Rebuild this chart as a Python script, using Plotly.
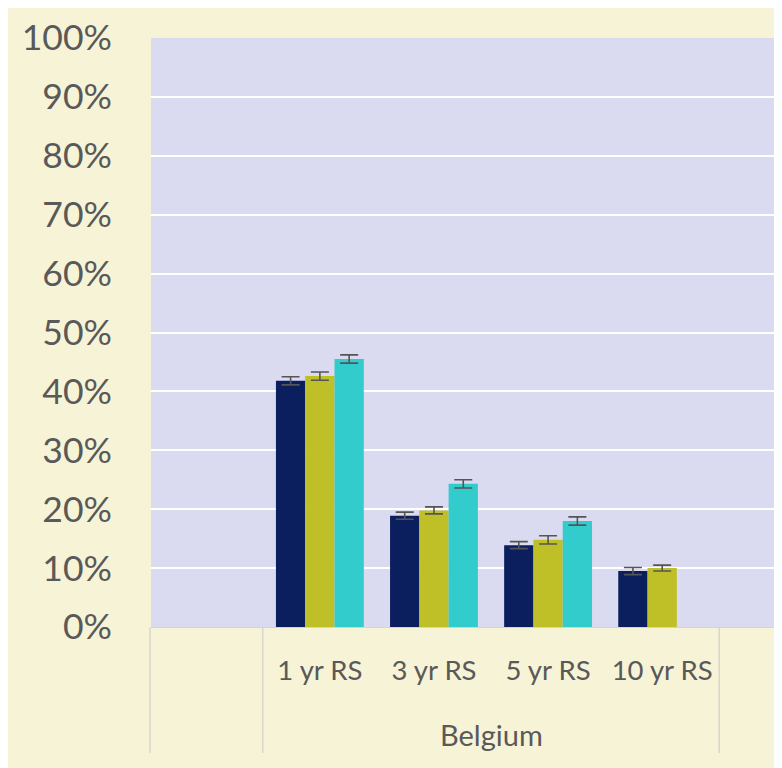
import plotly.graph_objects as go

categories = ["1 yr RS", "3 yr RS", "5 yr RS", "10 yr RS"]
group_label = "Belgium"
series_a = [0.418, 0.189, 0.139, 0.095]
series_b = [0.426, 0.198, 0.148, 0.100]
series_c = [0.455, 0.243, 0.180, None]
err_a = [0.007, 0.006, 0.006, 0.006]
err_b = [0.007, 0.006, 0.007, 0.005]
err_c = [0.007, 0.007, 0.007, None]
colors = ["#0b1f5e", "#bfbf28", "#33cccc"]
y_ticks = [i / 10 for i in range(11)]

W, H = 774, 760
L, R, T, B = 143, 0, 30, 141
pw, ph = W - L - R, H - T - B

def px_x(px):
    return (px - L) / pw

def px_y(py):
    return (H - B - py) / ph

fig = go.Figure()
for vals, errs, col in zip([series_a, series_b, series_c], [err_a, err_b, err_c], colors):
    fig.add_trace(go.Bar(
        x=categories, y=vals, marker=dict(color=col, line=dict(width=0)),
        error_y=dict(type="data", array=errs, visible=True, color="#555555",
                     thickness=1.6, width=9),
        showlegend=False,
    ))

text_col = "#595959"
font_family = "Lato, 'Open Sans', sans-serif"

fig.update_layout(
    width=W, height=H,
    margin=dict(l=L, r=R, t=T, b=B),
    paper_bgcolor="#f7f3d6",
    plot_bgcolor="#dadaf0",
    barmode="group", bargap=0.23, bargroupgap=0,
    font=dict(family=font_family, color=text_col),
    xaxis=dict(
        type="category", range=[-1.48, 4.05],
        showgrid=False, showline=True, linecolor="#d4d4d4", linewidth=1,
        ticks="", tickfont=dict(size=27.5, color=text_col),
        ticklabelstandoff=19, zeroline=False,
    ),
    yaxis=dict(
        range=[0, 1], tickvals=y_ticks, tickformat=".0%",
        showgrid=True, gridcolor="#ffffff", gridwidth=2,
        zeroline=False, showline=False, ticks="",
        tickfont=dict(size=35.5, color=text_col),
        ticklabelstandoff=38,
    ),
    shapes=[
        dict(type="line", xref="paper", yref="paper", x0=px_x(142), x1=px_x(142),
             y0=0, y1=px_y(745), line=dict(color="#d0d0d0", width=1.2)),
        dict(type="line", xref="x", yref="paper", x0=-0.5, x1=-0.5,
             y0=0, y1=px_y(745), line=dict(color="#d0d0d0", width=1.2)),
        dict(type="line", xref="x", yref="paper", x0=3.5, x1=3.5,
             y0=0, y1=px_y(745), line=dict(color="#d0d0d0", width=1.2)),
    ],
    annotations=[
        dict(text=group_label, xref="x", yref="paper", x=1.5, y=px_y(726),
             showarrow=False, font=dict(size=29, color=text_col),
             xanchor="center", yanchor="middle"),
    ],
)

fig.write_html("out.html")
